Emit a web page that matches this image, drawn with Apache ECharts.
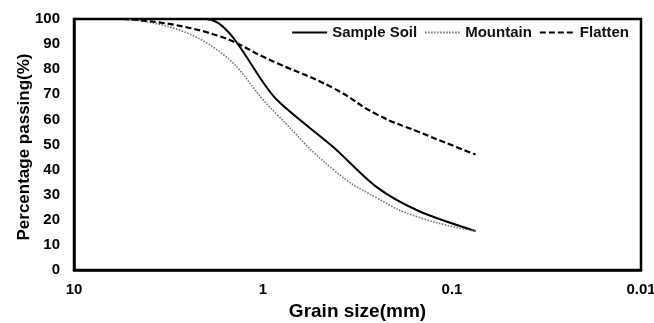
<!DOCTYPE html>
<html>
<head>
<meta charset="utf-8">
<script src="https://cdn.jsdelivr.net/npm/echarts@6/dist/echarts.min.js"></script>
<style>
  html, body { margin: 0; padding: 0; background: #fff; }
  #chart { width: 654px; height: 323px; }
</style>
</head>
<body>
<div id="chart"></div>
<script>
// Sieve sizes (mm) and percent passing for each soil
const grainSize = [5.5, 2, 0.85, 0.425, 0.25, 0.15, 0.075];
const sampleSoil = [100, 100, 68, 49, 33, 23.5, 15.5];
const mountain = [100, 90.6, 62.2, 40, 28.7, 21, 15.5];
const flatten = [100, 94.8, 82.5, 72.5, 62, 55, 46];
const xTicks = [10, 1, 0.1, 0.01];
const yTicks = [0, 10, 20, 30, 40, 50, 60, 70, 80, 90, 100];

const font = 'Liberation Sans, Arial, sans-serif';
const pairs = (ys) => grainSize.map((x, i) => [x, ys[i]]);

const chart = echarts.init(document.getElementById('chart'), null, { renderer: 'canvas' });
chart.setOption({
  animation: false,
  backgroundColor: '#fff',
  grid: {
    left: 74, right: 13, top: 19, bottom: 53,
    outerBoundsMode: 'none', containLabel: false,
    show: true, borderColor: '#000', borderWidth: 2.5
  },
  legend: {
    right: 20, top: 20,
    itemWidth: 35, itemHeight: 12, itemGap: 7,
    itemStyle: { opacity: 0 },
    textStyle: { fontFamily: font, fontWeight: 'bold', fontSize: 15, color: '#111' },
    data: ['Sample Soil', 'Mountain', 'Flatten']
  },
  xAxis: {
    type: 'log', logBase: 10,
    min: xTicks[xTicks.length - 1], max: xTicks[0],
    inverse: true,
    name: 'Grain size(mm)', nameLocation: 'middle', nameGap: 32,
    nameMoveOverlap: false,
    nameTextStyle: { fontFamily: font, fontWeight: 'bold', fontSize: 19, color: '#000' },
    axisLine: { show: true, lineStyle: { color: '#000', width: 2.5 } },
    axisTick: { show: false },
    splitLine: { show: false },
    minorTick: { show: false },
    axisLabel: {
      margin: 12, fontFamily: font, fontWeight: 'bold', fontSize: 15, color: '#000',
      formatter: (v) => {
        const t = xTicks.find(k => Math.abs(Math.log10(k) - Math.log10(v)) < 1e-6);
        return t === undefined ? '' : String(t);
      }
    }
  },
  yAxis: {
    type: 'value',
    min: yTicks[0], max: yTicks[yTicks.length - 1], interval: 10,
    name: 'Percentage passing(%)', nameLocation: 'middle', nameGap: 41,
    nameMoveOverlap: false,
    nameTextStyle: {
      fontFamily: font, fontWeight: 'bold', fontSize: 17, color: '#000',
      padding: [0, 5, 0, 0]
    },
    axisLine: { show: true, lineStyle: { color: '#000', width: 2.5 } },
    axisTick: { show: false },
    splitLine: { show: false },
    axisLabel: { margin: 14, fontFamily: font, fontWeight: 'bold', fontSize: 15, color: '#000' }
  },
  series: [
    {
      name: 'Sample Soil', type: 'line', data: pairs(sampleSoil),
      smooth: 0.3, symbol: 'none',
      lineStyle: { color: '#000', width: 2, type: 'solid' },
      itemStyle: { color: '#000' }
    },
    {
      name: 'Mountain', type: 'line', data: pairs(mountain),
      smooth: 0.5, symbol: 'none',
      lineStyle: { color: '#707070', width: 1.6, type: [1.5, 1.5] },
      itemStyle: { color: '#707070' }
    },
    {
      name: 'Flatten', type: 'line', data: pairs(flatten),
      smooth: 0.5, symbol: 'none',
      lineStyle: { color: '#000', width: 2.2, type: [6, 3] },
      itemStyle: { color: '#000' }
    }
  ]
});
</script>
</body>
</html>
